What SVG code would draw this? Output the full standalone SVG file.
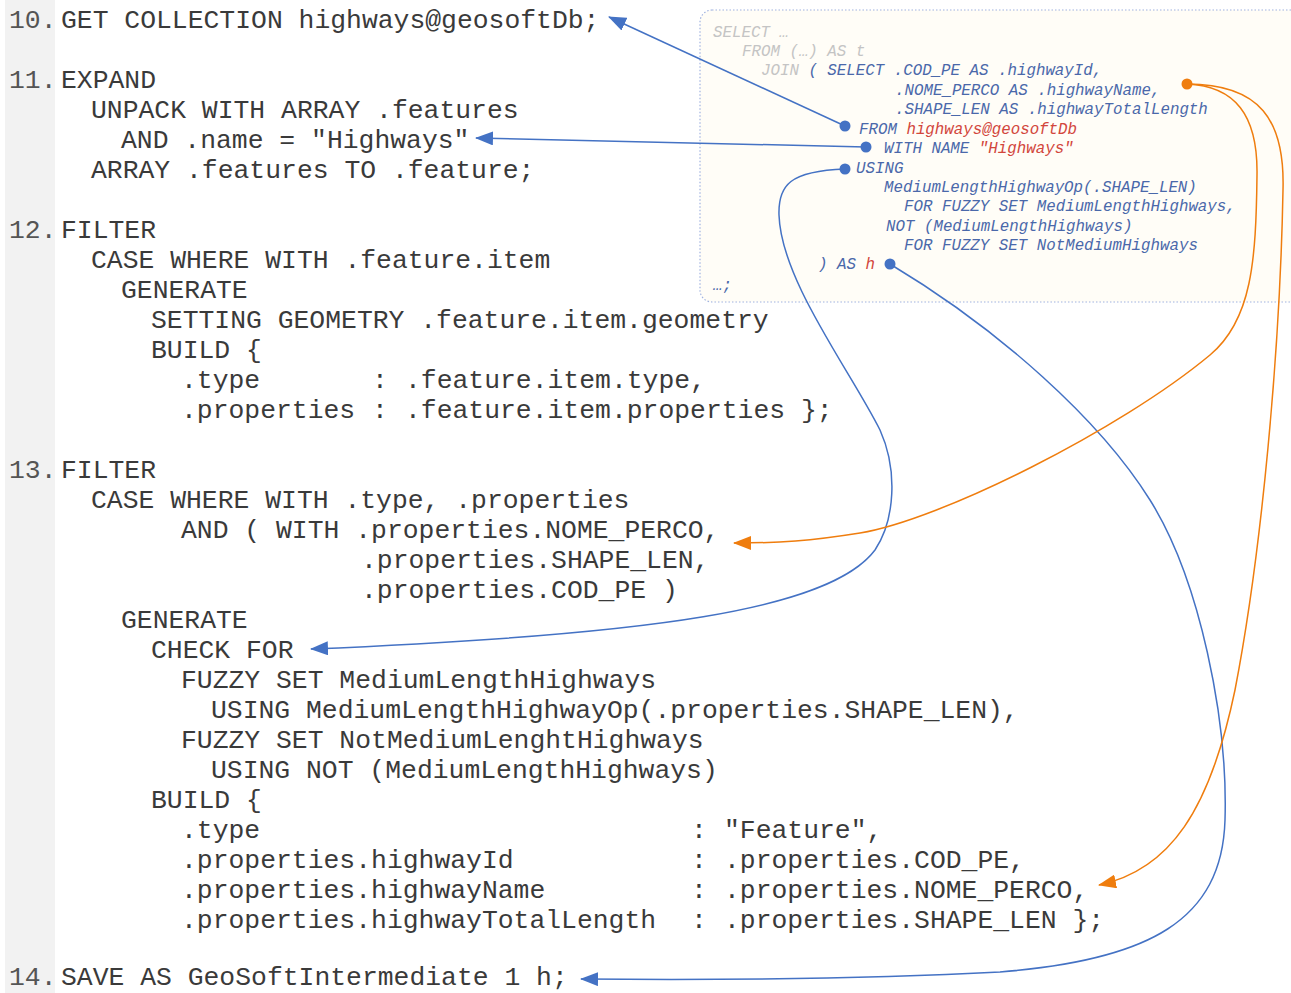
<svg xmlns="http://www.w3.org/2000/svg" width="1291" height="993" viewBox="0 0 1291 993" xml:space="preserve">
<style>
.code{font-family:"Liberation Mono","Courier New",monospace;font-size:26.4px;fill:#3a3a3a;}
.num{font-family:"Liberation Mono","Courier New",monospace;font-size:26.4px;fill:#555555;}
.sql{font-family:"Liberation Mono","Courier New",monospace;font-size:15.8px;font-style:italic;fill:#4a68aa;}
.g{fill:#c4c4c4;}
.r{fill:#d2463c;}
.cb{fill:none;stroke:#4472c4;stroke-width:1.5;}
.co{fill:none;stroke:#ef7d0e;stroke-width:1.5;}
.db{fill:#4472c4;}
.do{fill:#ef7d0e;}
</style>
<defs>
<marker id="ab" markerUnits="userSpaceOnUse" markerWidth="18" markerHeight="14" refX="17" refY="7" orient="auto"><path d="M0,0 L18,7 L0,14 z" fill="#4472c4"/></marker>
<marker id="ao" markerUnits="userSpaceOnUse" markerWidth="18" markerHeight="14" refX="17" refY="7" orient="auto"><path d="M0,0 L18,7 L0,14 z" fill="#ef7d0e"/></marker>
</defs>
<rect x="0" y="0" width="1291" height="993" fill="#ffffff"/>
<rect x="5" y="0" width="50" height="993" fill="#f2f2f2"/>

<g id="stmt10">
<text class="num" x="9" y="28">10.</text>
<text class="code" x="61" y="28">GET COLLECTION highways@geosoftDb;</text>
</g>
<g id="stmt11">
<text class="num" x="9" y="88">11.</text>
<text class="code" x="61" y="88">EXPAND</text>
<text class="code" x="91" y="118">UNPACK WITH ARRAY .features</text>
<text class="code" x="121" y="148">AND .name = "Highways"</text>
<text class="code" x="91" y="178">ARRAY .features TO .feature;</text>
</g>
<g id="stmt12">
<text class="num" x="9" y="238">12.</text>
<text class="code" x="61" y="238">FILTER</text>
<text class="code" x="91" y="268">CASE WHERE WITH .feature.item</text>
<text class="code" x="121" y="298">GENERATE</text>
<text class="code" x="151" y="328">SETTING GEOMETRY .feature.item.geometry</text>
<text class="code" x="151" y="358">BUILD {</text>
<text class="code" x="181" y="388">.type</text><text class="code" x="372" y="388">:</text><text class="code" x="405" y="388">.feature.item.type,</text>
<text class="code" x="181" y="418">.properties</text><text class="code" x="372" y="418">:</text><text class="code" x="405" y="418">.feature.item.properties };</text>
</g>
<g id="stmt13">
<text class="num" x="9" y="478">13.</text>
<text class="code" x="61" y="478">FILTER</text>
<text class="code" x="91" y="508">CASE WHERE WITH .type, .properties</text>
<text class="code" x="181" y="538">AND ( WITH .properties.NOME_PERCO,</text>
<text class="code" x="361" y="568">.properties.SHAPE_LEN,</text>
<text class="code" x="361" y="598">.properties.COD_PE )</text>
<text class="code" x="121" y="628">GENERATE</text>
<text class="code" x="151" y="658">CHECK FOR</text>
<text class="code" x="181" y="688">FUZZY SET MediumLengthHighways</text>
<text class="code" x="211" y="718">USING MediumLengthHighwayOp(.properties.SHAPE_LEN),</text>
<text class="code" x="181" y="748">FUZZY SET NotMediumLenghtHighways</text>
<text class="code" x="211" y="778">USING NOT (MediumLengthHighways)</text>
<text class="code" x="151" y="808">BUILD {</text>
<text class="code" x="181" y="838">.type</text><text class="code" x="691" y="838">:</text><text class="code" x="724" y="838">"Feature",</text>
<text class="code" x="181" y="868">.properties.highwayId</text><text class="code" x="691" y="868">:</text><text class="code" x="724" y="868">.properties.COD_PE,</text>
<text class="code" x="181" y="898">.properties.highwayName</text><text class="code" x="691" y="898">:</text><text class="code" x="724" y="898">.properties.NOME_PERCO,</text>
<text class="code" x="181" y="928">.properties.highwayTotalLength</text><text class="code" x="691" y="928">:</text><text class="code" x="724" y="928">.properties.SHAPE_LEN };</text>
</g>
<g id="stmt14">
<text class="num" x="9" y="985">14.</text>
<text class="code" x="61" y="985">SAVE AS GeoSoftIntermediate 1 h;</text>
</g>

<g id="sqlBox">
<rect x="700" y="10" width="610" height="292" rx="12" ry="12" fill="#fffdf7" stroke="#9fb2e0" stroke-width="1.2" stroke-dasharray="1.5,2"/>
<text class="sql g" x="713" y="37">SELECT …</text>
<text class="sql g" x="742" y="56">FROM (…) AS t</text>
<text class="sql" x="761" y="75"><tspan class="g">JOIN</tspan> ( SELECT .COD_PE AS .highwayId,</text>
<text class="sql" x="895" y="95">.NOME_PERCO AS .highwayName,</text>
<text class="sql" x="895" y="114">.SHAPE_LEN AS .highwayTotalLength</text>
<text class="sql" x="859" y="134">FROM <tspan class="r">highways@geosoftDb</tspan></text>
<text class="sql" x="884" y="153">WITH NAME <tspan class="r">"Highways"</tspan></text>
<text class="sql" x="856" y="173">USING</text>
<text class="sql" x="884" y="192">MediumLengthHighwayOp(.SHAPE_LEN)</text>
<text class="sql" x="904" y="211">FOR FUZZY SET MediumLengthHighways,</text>
<text class="sql" x="886" y="231">NOT (MediumLengthHighways)</text>
<text class="sql" x="904" y="250">FOR FUZZY SET NotMediumHighways</text>
<text class="sql" x="818" y="269">) AS <tspan class="r">h</tspan></text>
<text class="sql" x="713" y="290">…;</text>
</g>

<g id="connectors">
<path class="cb" d="M845,126 L609,17" marker-end="url(#ab)"/>
<path class="cb" d="M866,147 L476,138" marker-end="url(#ab)"/>
<path class="cb" d="M845,169 C790,171 778,185 779,215 C781,280 850,370 880,430 C898,470 895,520 875,550 C830,610 650,635 311,649" marker-end="url(#ab)"/>
<path class="cb" d="M890,264 C1000,330 1100,420 1150,500 C1200,580 1228,720 1225,820 C1222,920 1150,960 1000,972 C850,980 700,980 581,979" marker-end="url(#ab)"/>
<path class="co" d="M1187,84 C1235,86 1258,115 1257,175 C1256,260 1252,320 1210,355 C1120,430 940,520 860,533 C810,541 780,543 734,543" marker-end="url(#ao)"/>
<path class="co" d="M1187,84 C1260,84 1285,120 1283,190 C1280,350 1262,550 1235,690 C1210,810 1170,870 1099,885" marker-end="url(#ao)"/>
<circle class="db" cx="845" cy="126" r="5.5"/>
<circle class="db" cx="866" cy="147" r="5.5"/>
<circle class="db" cx="845" cy="169" r="5.5"/>
<circle class="db" cx="890" cy="264" r="5.5"/>
<circle class="do" cx="1187" cy="84" r="5.5"/>
</g>
</svg>
